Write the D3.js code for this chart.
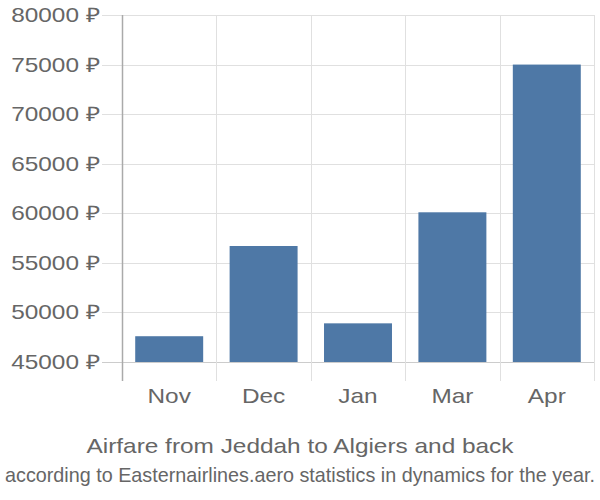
<!DOCTYPE html>
<html><head><meta charset="utf-8">
<script src="https://cdn.jsdelivr.net/npm/d3@7"></script>
<style>body{margin:0;background:#fff}svg{display:block}</style>
</head><body>
<svg id="c" width="600" height="500"></svg>
<script>
const categories = ["Nov", "Dec", "Jan", "Mar", "Apr"];
const values = [47600, 56700, 48900, 60100, 75000];
const yTicks = [45000, 50000, 55000, 60000, 65000, 70000, 75000, 80000];
const title = "Airfare from Jeddah to Algiers and back";
const subtitle = "according to Easternairlines.aero statistics in dynamics for the year.";

(function () {
const svg = d3.select("#c");
const mLeft = 122, mRight = 594, mTop = 15, mBottom = 362;
const font = "Liberation Sans, Arial, sans-serif";
const sx = 1.22;

const x = d3.scaleBand().domain(categories).range([mLeft, mRight]).paddingInner(0).paddingOuter(0);
const y = d3.scaleLinear().domain([45000, 80000]).range([mBottom, mTop]);

// horizontal grid
svg.append("g").selectAll("line").data(yTicks).join("line")
  .attr("x1", 102).attr("x2", mRight)
  .attr("y1", d => Math.round(y(d)) + 0.5).attr("y2", d => Math.round(y(d)) + 0.5)
  .attr("stroke", d => d === 45000 ? "#ccc" : "#e0e0e0").attr("stroke-width", 1);

// vertical grid at band boundaries
const bounds = categories.map(c => x(c) + x.bandwidth());
svg.append("g").selectAll("line").data(bounds).join("line")
  .attr("x1", d => Math.round(d) + 0.5).attr("x2", d => Math.round(d) + 0.5)
  .attr("y1", mTop).attr("y2", 381)
  .attr("stroke", "#e0e0e0").attr("stroke-width", 1);

// bars
const bw = x.bandwidth() * 0.72;
svg.append("g").selectAll("rect").data(values).join("rect")
  .attr("x", (d, i) => x(categories[i]) + (x.bandwidth() - bw) / 2)
  .attr("width", bw)
  .attr("y", d => y(d))
  .attr("height", d => y(45000) - y(d))
  .attr("fill", "#4e78a6");

// y axis line
svg.append("line").attr("x1", mLeft + 0.5).attr("x2", mLeft + 0.5).attr("y1", mTop).attr("y2", 381)
  .attr("stroke", "#aaa").attr("stroke-width", 1.5);

// y tick labels
svg.append("g").selectAll("text").data(yTicks).join("text")
  .attr("transform", d => `translate(100,${y(d)}) scale(${sx},1)`)
  .attr("dy", "0.35em")
  .attr("text-anchor", "end").attr("font-family", font).attr("font-size", 20)
  .attr("fill", "#666").text(d => d + " ₽");

// x labels
svg.append("g").selectAll("text").data(categories).join("text")
  .attr("transform", d => `translate(${x(d) + x.bandwidth() / 2},396) scale(${sx},1)`)
  .attr("dy", "0.35em")
  .attr("text-anchor", "middle").attr("font-family", font).attr("font-size", 20)
  .attr("fill", "#666").text(d => d);

svg.append("text").attr("x", 300).attr("y", 446).attr("dy", "0.35em")
  .attr("text-anchor", "middle").attr("font-family", font).attr("font-size", 21)
  .attr("textLength", 427).attr("lengthAdjust", "spacingAndGlyphs")
  .attr("fill", "#666").text(title);
svg.append("text").attr("transform", "translate(300,475) scale(1,1.235)").attr("dy", "0.35em")
  .attr("text-anchor", "middle").attr("font-family", font).attr("font-size", 17)
  .attr("textLength", 590).attr("lengthAdjust", "spacingAndGlyphs")
  .attr("fill", "#666").text(subtitle);
})();
</script>
</body></html>
